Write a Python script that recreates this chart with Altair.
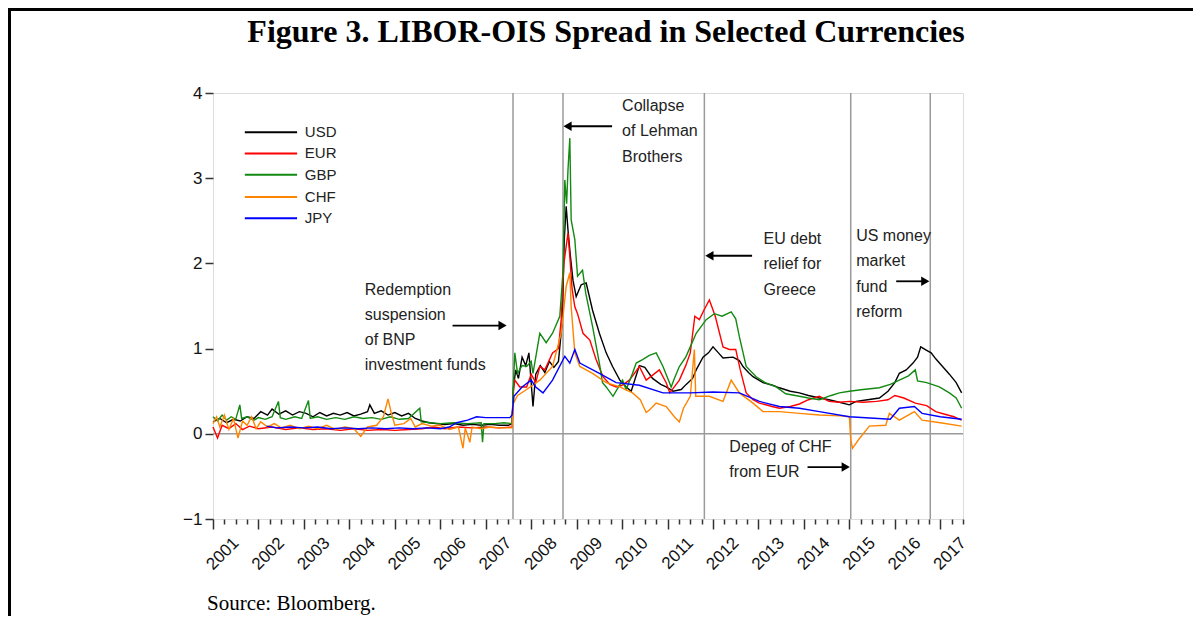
import altair as alt
import pandas as pd

# ---------------- data ----------------
currencies = ["USD", "EUR", "GBP", "CHF", "JPY"]
colors = ["#000000", "#ff0000", "#128a12", "#ff8400", "#0000ff"]

usd_points = [
    (2001.0, 0.14), (2001.15, 0.18), (2001.3, 0.13), (2001.45, 0.17), (2001.6, 0.15), (2001.75, 0.20),
    (2001.9, 0.18), (2002.05, 0.26), (2002.2, 0.22), (2002.3, 0.29), (2002.45, 0.23), (2002.6, 0.27),
    (2002.75, 0.22), (2002.9, 0.26), (2003.05, 0.24), (2003.2, 0.20), (2003.35, 0.25), (2003.5, 0.21),
    (2003.65, 0.24), (2003.8, 0.22), (2003.95, 0.25), (2004.1, 0.21), (2004.25, 0.23), (2004.4, 0.26),
    (2004.45, 0.34), (2004.55, 0.24), (2004.7, 0.27), (2004.85, 0.22), (2005.0, 0.25), (2005.15, 0.21),
    (2005.3, 0.24), (2005.45, 0.18), (2005.6, 0.15), (2005.75, 0.13), (2005.9, 0.12), (2006.1, 0.11),
    (2006.3, 0.12), (2006.5, 0.10), (2006.7, 0.11), (2006.9, 0.10), (2007.1, 0.11), (2007.3, 0.10),
    (2007.5, 0.10), (2007.58, 0.12), (2007.61, 0.55), (2007.66, 0.75), (2007.72, 0.65), (2007.8, 0.90),
    (2007.88, 0.80), (2007.95, 0.95), (2008.04, 0.32), (2008.1, 0.70), (2008.2, 0.80), (2008.3, 0.72),
    (2008.4, 0.85), (2008.5, 0.78), (2008.6, 0.85), (2008.68, 1.30), (2008.73, 2.30), (2008.77, 2.67),
    (2008.81, 2.39), (2008.86, 2.10), (2008.92, 1.80), (2008.99, 1.61), (2009.1, 1.75), (2009.21, 1.77),
    (2009.35, 1.45), (2009.5, 1.18), (2009.65, 0.95), (2009.79, 0.79), (2009.95, 0.63), (2010.09, 0.55),
    (2010.2, 0.50), (2010.38, 0.80), (2010.5, 0.78), (2010.67, 0.65), (2010.85, 0.58), (2010.97, 0.55),
    (2011.12, 0.50), (2011.3, 0.52), (2011.41, 0.58), (2011.55, 0.65), (2011.63, 0.75), (2011.78, 0.90),
    (2011.9, 0.95), (2012.0, 1.02), (2012.12, 0.95), (2012.22, 0.89), (2012.44, 0.90), (2012.58, 0.86),
    (2012.66, 0.79), (2012.78, 0.72), (2012.88, 0.67), (2013.1, 0.60), (2013.31, 0.57), (2013.46, 0.54),
    (2013.7, 0.50), (2013.9, 0.48), (2014.1, 0.45), (2014.34, 0.42), (2014.55, 0.40), (2014.78, 0.37),
    (2015.0, 0.34), (2015.15, 0.38), (2015.4, 0.40), (2015.66, 0.42), (2015.85, 0.50), (2016.0, 0.60),
    (2016.1, 0.71), (2016.25, 0.75), (2016.4, 0.83), (2016.5, 0.90), (2016.57, 1.02), (2016.7, 0.98),
    (2016.8, 0.95), (2016.9, 0.88), (2017.05, 0.79), (2017.2, 0.70), (2017.35, 0.60), (2017.47, 0.48),
]

eur_points = [
    (2001.0, 0.08), (2001.1, -0.05), (2001.2, 0.10), (2001.35, 0.06), (2001.5, 0.12), (2001.65, 0.05),
    (2001.8, 0.09), (2002.0, 0.06), (2002.3, 0.08), (2002.6, 0.05), (2002.9, 0.07), (2003.2, 0.05),
    (2003.5, 0.06), (2003.8, 0.04), (2004.1, 0.06), (2004.4, 0.04), (2004.7, 0.05), (2005.0, 0.04),
    (2005.3, 0.05), (2005.6, 0.06), (2005.85, 0.08), (2006.1, 0.06), (2006.4, 0.08), (2006.7, 0.07),
    (2007.0, 0.08), (2007.3, 0.07), (2007.58, 0.08), (2007.61, 0.50), (2007.64, 0.63), (2007.75, 0.55),
    (2007.9, 0.55), (2008.0, 0.70), (2008.1, 0.60), (2008.19, 0.79), (2008.3, 0.75), (2008.47, 0.95),
    (2008.6, 1.00), (2008.66, 1.34), (2008.72, 2.00), (2008.77, 2.20), (2008.81, 2.36), (2008.85, 2.08),
    (2008.9, 1.70), (2008.96, 1.49), (2009.02, 1.41), (2009.14, 1.18), (2009.29, 1.10), (2009.43, 0.87),
    (2009.58, 0.67), (2009.73, 0.58), (2009.87, 0.55), (2010.0, 0.57), (2010.16, 0.63), (2010.38, 0.79),
    (2010.53, 0.63), (2010.7, 0.70), (2010.82, 0.75), (2010.97, 0.60), (2011.05, 0.48), (2011.26, 0.63),
    (2011.4, 0.80), (2011.5, 0.95), (2011.6, 1.38), (2011.7, 1.34), (2011.8, 1.45), (2011.92, 1.57),
    (2012.05, 1.38), (2012.22, 1.02), (2012.36, 0.99), (2012.5, 0.99), (2012.6, 0.75), (2012.73, 0.48),
    (2012.88, 0.40), (2013.02, 0.36), (2013.3, 0.32), (2013.46, 0.30), (2013.7, 0.32), (2013.9, 0.35),
    (2014.1, 0.40), (2014.34, 0.44), (2014.55, 0.38), (2014.78, 0.37), (2015.0, 0.38), (2015.3, 0.37),
    (2015.6, 0.38), (2015.85, 0.40), (2016.0, 0.45), (2016.2, 0.42), (2016.45, 0.36), (2016.7, 0.33),
    (2016.9, 0.26), (2017.1, 0.23), (2017.3, 0.20), (2017.47, 0.16),
]

gbp_points = [
    (2001.0, 0.20), (2001.1, 0.15), (2001.2, 0.22), (2001.3, 0.16), (2001.4, 0.20), (2001.5, 0.17),
    (2001.59, 0.34), (2001.63, 0.18), (2001.75, 0.20), (2001.9, 0.16), (2002.0, 0.19), (2002.15, 0.17),
    (2002.3, 0.20), (2002.44, 0.38), (2002.48, 0.19), (2002.6, 0.17), (2002.8, 0.20), (2002.95, 0.18),
    (2003.1, 0.39), (2003.14, 0.18), (2003.3, 0.20), (2003.5, 0.17), (2003.7, 0.19), (2003.9, 0.17),
    (2004.1, 0.20), (2004.3, 0.18), (2004.5, 0.19), (2004.7, 0.17), (2004.9, 0.20), (2005.1, 0.17),
    (2005.3, 0.18), (2005.55, 0.30), (2005.58, 0.14), (2005.8, 0.13), (2006.0, 0.12), (2006.3, 0.13),
    (2006.6, 0.12), (2006.9, 0.13), (2006.93, -0.10), (2006.96, 0.12), (2007.2, 0.12), (2007.4, 0.13),
    (2007.58, 0.12), (2007.61, 0.60), (2007.64, 0.95), (2007.7, 0.71), (2007.8, 0.80), (2007.9, 0.79),
    (2008.0, 0.85), (2008.04, 0.71), (2008.19, 1.18), (2008.33, 1.07), (2008.47, 1.18), (2008.63, 1.38),
    (2008.7, 1.90), (2008.74, 2.98), (2008.78, 2.70), (2008.81, 3.10), (2008.85, 3.47), (2008.88, 2.51),
    (2008.96, 2.28), (2009.02, 1.85), (2009.13, 1.92), (2009.2, 1.65), (2009.35, 1.26), (2009.5, 0.83),
    (2009.57, 0.60), (2009.65, 0.55), (2009.8, 0.44), (2010.01, 0.63), (2010.09, 0.52), (2010.23, 0.71),
    (2010.31, 0.83), (2010.45, 0.87), (2010.6, 0.92), (2010.75, 0.95), (2010.9, 0.79), (2011.08, 0.55),
    (2011.15, 0.65), (2011.26, 0.79), (2011.4, 0.90), (2011.5, 1.02), (2011.63, 1.18), (2011.85, 1.34),
    (2012.03, 1.41), (2012.2, 1.38), (2012.4, 1.43), (2012.5, 1.35), (2012.58, 1.14), (2012.73, 0.79),
    (2012.95, 0.67), (2013.15, 0.60), (2013.39, 0.55), (2013.6, 0.47), (2013.9, 0.44), (2014.1, 0.42),
    (2014.34, 0.40), (2014.6, 0.45), (2014.78, 0.48), (2015.0, 0.50), (2015.3, 0.52), (2015.66, 0.54),
    (2015.9, 0.58), (2016.1, 0.63), (2016.3, 0.68), (2016.45, 0.75), (2016.5, 0.62), (2016.7, 0.60),
    (2016.98, 0.55), (2017.2, 0.48), (2017.35, 0.42), (2017.47, 0.30),
]

chf_points = [
    (2001.0, 0.12), (2001.08, 0.20), (2001.15, 0.08), (2001.25, 0.22), (2001.35, 0.05), (2001.45, 0.18),
    (2001.55, -0.05), (2001.65, 0.15), (2001.75, 0.10), (2001.85, 0.20), (2001.95, 0.06), (2002.05, 0.14),
    (2002.2, 0.08), (2002.35, 0.12), (2002.5, 0.07), (2002.7, 0.10), (2002.9, 0.06), (2003.1, 0.09),
    (2003.3, 0.06), (2003.5, 0.10), (2003.7, 0.05), (2003.9, 0.08), (2004.1, 0.06), (2004.25, -0.03),
    (2004.4, 0.08), (2004.6, 0.10), (2004.75, 0.20), (2004.85, 0.41), (2004.92, 0.25), (2005.0, 0.10),
    (2005.2, 0.12), (2005.35, 0.18), (2005.45, 0.08), (2005.6, 0.12), (2005.8, 0.09), (2006.0, 0.10),
    (2006.2, 0.05), (2006.4, 0.08), (2006.5, -0.17), (2006.55, 0.07), (2006.65, -0.10), (2006.7, 0.08),
    (2006.9, 0.06), (2007.1, 0.08), (2007.3, 0.07), (2007.58, 0.07), (2007.61, 0.36), (2007.7, 0.45),
    (2007.9, 0.52), (2008.19, 0.63), (2008.47, 0.79), (2008.66, 1.18), (2008.77, 1.73), (2008.85, 1.89),
    (2008.88, 1.49), (2008.96, 0.95), (2009.07, 0.79), (2009.35, 0.71), (2009.65, 0.60), (2009.95, 0.55),
    (2010.23, 0.48), (2010.4, 0.40), (2010.53, 0.25), (2010.6, 0.28), (2010.75, 0.36), (2010.97, 0.32),
    (2011.15, 0.20), (2011.26, 0.14), (2011.35, 0.30), (2011.5, 0.44), (2011.59, 0.99), (2011.62, 0.44),
    (2011.92, 0.44), (2012.22, 0.38), (2012.4, 0.63), (2012.58, 0.48), (2012.88, 0.36), (2013.1, 0.26),
    (2013.46, 0.26), (2013.9, 0.24), (2014.34, 0.22), (2014.8, 0.21), (2015.0, 0.20), (2015.03, -0.07),
    (2015.07, -0.17), (2015.2, -0.07), (2015.44, 0.09), (2015.8, 0.10), (2015.88, 0.24), (2016.1, 0.16),
    (2016.43, 0.26), (2016.6, 0.16), (2017.0, 0.13), (2017.47, 0.09),
]

jpy_points = [
    (2002.18, 0.09), (2002.4, 0.07), (2002.7, 0.08), (2003.0, 0.07), (2003.3, 0.08), (2003.6, 0.06),
    (2003.9, 0.07), (2004.2, 0.06), (2004.5, 0.07), (2004.8, 0.06), (2005.1, 0.07), (2005.4, 0.06),
    (2005.7, 0.07), (2006.0, 0.06), (2006.2, 0.08), (2006.36, 0.13), (2006.6, 0.16), (2006.8, 0.20),
    (2007.0, 0.19), (2007.31, 0.19), (2007.53, 0.19), (2007.58, 0.22), (2007.62, 0.44), (2007.8, 0.55),
    (2008.0, 0.63), (2008.1, 0.55), (2008.26, 0.48), (2008.47, 0.63), (2008.74, 0.91), (2008.85, 0.83),
    (2008.96, 0.99), (2009.07, 0.83), (2009.5, 0.71), (2009.87, 0.60), (2010.38, 0.57), (2010.9, 0.48),
    (2011.5, 0.48), (2012.0, 0.49), (2012.58, 0.48), (2013.02, 0.38), (2013.46, 0.32), (2013.9, 0.30),
    (2014.34, 0.26), (2015.0, 0.20), (2015.9, 0.17), (2016.1, 0.30), (2016.43, 0.32), (2016.6, 0.24),
    (2017.0, 0.20), (2017.47, 0.17),
]

series = {"USD": usd_points, "EUR": eur_points, "GBP": gbp_points, "CHF": chf_points, "JPY": jpy_points}

event_dates = [2007.6, 2008.7, 2011.81, 2015.03, 2016.78]
years = list(range(2001, 2018))
y_ticks = [-1, 0, 1, 2, 3, 4]

title_text = "Figure 3. LIBOR-OIS Spread in Selected Currencies"
source_text = "Source: Bloomberg."

# annotation text (anchor in data coordinates) and arrows
note_x = [2010.0, 2010.0, 2010.0,
          2013.11, 2013.11, 2013.11,
          2015.15, 2015.15, 2015.15, 2015.15,
          2004.34, 2004.34, 2004.34, 2004.34,
          2012.36, 2012.36]
note_y = [3.85, 3.55, 3.25,
          2.29, 1.99, 1.69,
          2.32, 2.03, 1.72, 1.43,
          1.69, 1.40, 1.10, 0.81,
          -0.15, -0.45]
note_text = ["Collapse", "of Lehman", "Brothers",
             "EU debt", "relief for", "Greece",
             "US money", "market", "fund", "reform",
             "Redemption", "suspension", "of BNP", "investment funds",
             "Depeg of CHF", "from EUR"]

arrow_from = [2009.78, 2012.86, 2016.03, 2006.27, 2014.08]
arrow_to = [2008.80, 2011.92, 2016.67, 2007.37, 2014.92]
arrow_y = [3.61, 2.09, 1.79, 1.27, -0.39]
arrow_dir = ["triangle-left", "triangle-left", "triangle-right", "triangle-right", "triangle-right"]

legend_y = [3.54, 3.29, 3.04, 2.78, 2.53]

# ---------------- tables ----------------
rows = []
for c in currencies:
    for t, v in series[c]:
        rows.append({"t": t, "v": v, "cur": c})
df = pd.DataFrame(rows)

quarters = [y + q / 4 for y in years[:-1] for q in range(4)] + [2017.0, 2017.25, 2017.5]

W, H = 750, 426
xs = alt.Scale(domain=[2001, 2017.5], nice=False, zero=False)
ys = alt.Scale(domain=[-1, 4], nice=False, zero=False)

x_axis = alt.Axis(
    values=quarters, title=None, grid=False, domain=False,
    tickSize={"condition": {"test": "datum.value % 1 === 0", "value": 10}, "value": 5},
    tickColor="#333333", tickWidth=1.5,
    labelExpr="datum.value % 1 === 0.5 ? '' + floor(datum.value) : ''",
    labelAngle=-45, labelAlign="right", labelBaseline="middle",
    labelFont="Liberation Sans", labelFontSize=17, labelColor="#111111",
    labelPadding=16, labelOverlap=False, labelFlush=False,
)
y_axis = alt.Axis(
    values=y_ticks, title=None, grid=False, domain=False,
    tickSize=8, tickColor="#333333", tickWidth=1.5,
    labelFont="Liberation Sans", labelFontSize=17, labelColor="#111111", labelPadding=3,
)


def X(field):
    return alt.X(field, type="quantitative", scale=xs, axis=x_axis)


def Y(field):
    return alt.Y(field, type="quantitative", scale=ys, axis=y_axis)


gray = "#9a9a9a"
zero_line = alt.Chart(pd.DataFrame({"v": [0]})).mark_rule(color=gray, strokeWidth=1.5).encode(y=Y("v"))
event_lines = alt.Chart(pd.DataFrame({"t": event_dates})).mark_rule(color=gray, strokeWidth=1.5).encode(x=X("t"))

line_layers = []
for c, col in zip(currencies, colors):
    line_layers.append(
        alt.Chart(df).transform_filter(alt.datum.cur == c)
        .mark_line(color=col, strokeWidth=1.4)
        .encode(x=X("t"), y=Y("v"), order=alt.Order("t:Q"))
    )

notes_df = pd.DataFrame({"x": note_x, "y": note_y, "text": note_text})
notes = alt.Chart(notes_df).mark_text(
    align="left", baseline="middle", font="Liberation Sans", fontSize=16, color="#222222"
).encode(x=X("x"), y=Y("y"), text="text:N")

arrows_df = pd.DataFrame({"x1": arrow_from, "x2": arrow_to, "y": arrow_y, "shape": arrow_dir})
arrow_shafts = alt.Chart(arrows_df).mark_rule(color="black", strokeWidth=1.8).encode(
    x=X("x1"), x2="x2:Q", y=Y("y"))
arrow_heads = alt.Chart(arrows_df).mark_point(filled=True, color="black", size=90, opacity=1).encode(
    x=X("x2"), y=Y("y"), shape=alt.Shape("shape:N", scale=None, legend=None))

legend_df = pd.DataFrame({"cur": currencies, "y": legend_y, "color": colors,
                          "x1": [2001.70] * 5, "x2": [2002.85] * 5, "xt": [2003.02] * 5})
legend_lines = alt.Chart(legend_df).mark_rule(strokeWidth=2).encode(
    x=X("x1"), x2="x2:Q", y=Y("y"), color=alt.Color("color:N", scale=None, legend=None))
legend_text = alt.Chart(legend_df).mark_text(
    align="left", baseline="middle", font="Liberation Sans", fontSize=15, color="#222222"
).encode(x=X("xt"), y=Y("y"), text="cur:N")

one = pd.DataFrame({"a": [0]})
title = alt.Chart(one).mark_text(
    align="center", baseline="alphabetic", font="Liberation Serif", fontSize=32, fontWeight="bold",
    color="black", text=title_text).encode(x=alt.value(393), y=alt.value(-51))
source = alt.Chart(one).mark_text(
    align="left", baseline="alphabetic", font="Liberation Serif", fontSize=21, color="black",
    text=source_text).encode(x=alt.value(-6), y=alt.value(517))
frame_left = alt.Chart(one).mark_rule(color="black", strokeWidth=3).encode(
    x=alt.value(-203.5), y=alt.value(-85), y2=alt.value(H + 97))
frame_top = alt.Chart(one).mark_rule(color="black", strokeWidth=3).encode(
    x=alt.value(-205), x2=alt.value(W + 230), y=alt.value(-83.5))

chart = alt.layer(
    zero_line, event_lines, *line_layers, notes, arrow_shafts, arrow_heads,
    legend_lines, legend_text, title, source, frame_left, frame_top,
).properties(
    width=W, height=H,
    autosize=alt.AutoSizeParams(type="none"),
    padding={"left": 205, "top": 85, "right": 230, "bottom": 97},
).configure_view(stroke="#3a3a3a", strokeWidth=2).configure(background="white")

chart.save("out.html", embed_options={"renderer": "svg", "actions": False})
